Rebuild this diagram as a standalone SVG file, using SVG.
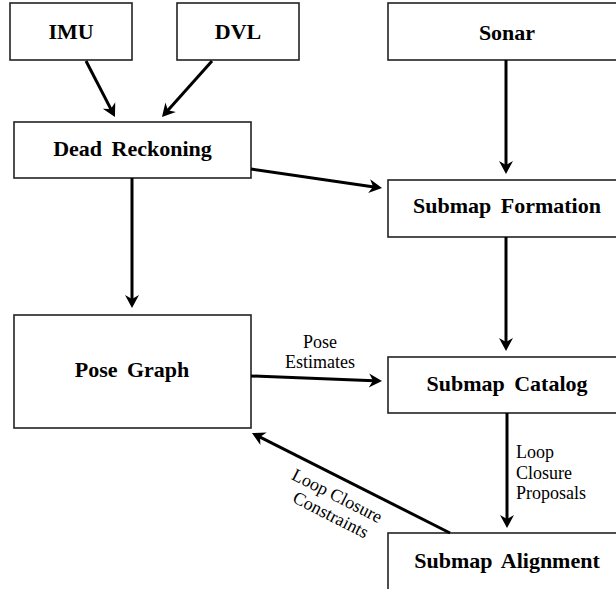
<svg xmlns="http://www.w3.org/2000/svg" width="616" height="589" viewBox="0 0 616 589">
<style>
.box{fill:#fff;stroke:#222;stroke-width:1.6}
.nt{font-family:"Liberation Serif","Times New Roman",serif;font-weight:bold;font-size:22px;fill:#000;text-anchor:middle;word-spacing:4px}
.lt{font-family:"Liberation Serif","Times New Roman",serif;font-size:18px;fill:#000}
.c{stroke:#000;stroke-width:3;fill:none;marker-end:url(#ah)}
</style>
<defs>
<marker id="ah" markerUnits="userSpaceOnUse" markerWidth="20" markerHeight="20" viewBox="-8 -10 20 20" refX="0" refY="0" orient="auto">
<path d="M8,0 L-5,-7 L-1,0 L-5,7 Z" fill="#000"/>
</marker>
</defs>
<rect width="616" height="589" fill="#fff"/>
<g id="imu"><rect class="box" x="10" y="3" width="122" height="57"/><text class="nt" x="71" y="39">IMU</text></g>
<g id="dvl"><rect class="box" x="177" y="3" width="122" height="57"/><text class="nt" x="238" y="39">DVL</text></g>
<g id="sonar"><rect class="box" x="388" y="3" width="238" height="57"/><text class="nt" x="507" y="40">Sonar</text></g>
<g id="dead-reckoning"><rect class="box" x="14" y="122" width="237" height="56"/><text class="nt" x="132.5" y="156">Dead Reckoning</text></g>
<g id="submap-formation"><rect class="box" x="388" y="180" width="238" height="57"/><text class="nt" x="507" y="213">Submap Formation</text></g>
<g id="pose-graph"><rect class="box" x="14" y="315" width="237" height="113"/><text class="nt" x="132" y="377">Pose Graph</text></g>
<g id="submap-catalog"><rect class="box" x="388" y="357" width="238" height="56"/><text class="nt" x="507" y="391">Submap Catalog</text></g>
<g id="submap-alignment"><rect class="box" x="388" y="533" width="238" height="70"/><text class="nt" x="507" y="568">Submap Alignment</text></g>
<g id="connectors">
<line class="c" x1="86" y1="61" x2="111.3" y2="109.9"/>
<line class="c" x1="212" y1="61" x2="167.3" y2="111"/>
<line class="c" x1="251" y1="169" x2="374.1" y2="186.9"/>
<line class="c" x1="132" y1="178" x2="132" y2="300"/>
<line class="c" x1="506" y1="60" x2="506" y2="166"/>
<line class="c" x1="506" y1="237" x2="506" y2="343"/>
<line class="c" x1="251" y1="376" x2="374" y2="380.7"/>
<line class="c" x1="507" y1="413" x2="507" y2="520"/>
<line class="c" x1="450" y1="533" x2="259.1" y2="436.6"/>
<text class="lt" x="320" y="348" text-anchor="middle">Pose</text>
<text class="lt" x="320" y="368" text-anchor="middle">Estimates</text>
<text class="lt" x="516" y="458">Loop</text>
<text class="lt" x="516" y="478.5">Closure</text>
<text class="lt" x="516" y="499">Proposals</text>
<text class="lt" text-anchor="middle" transform="translate(334.5,501) rotate(27)"><tspan x="0" y="0">Loop Closure</tspan><tspan x="3" y="20">Constraints</tspan></text>
</g>
</svg>
